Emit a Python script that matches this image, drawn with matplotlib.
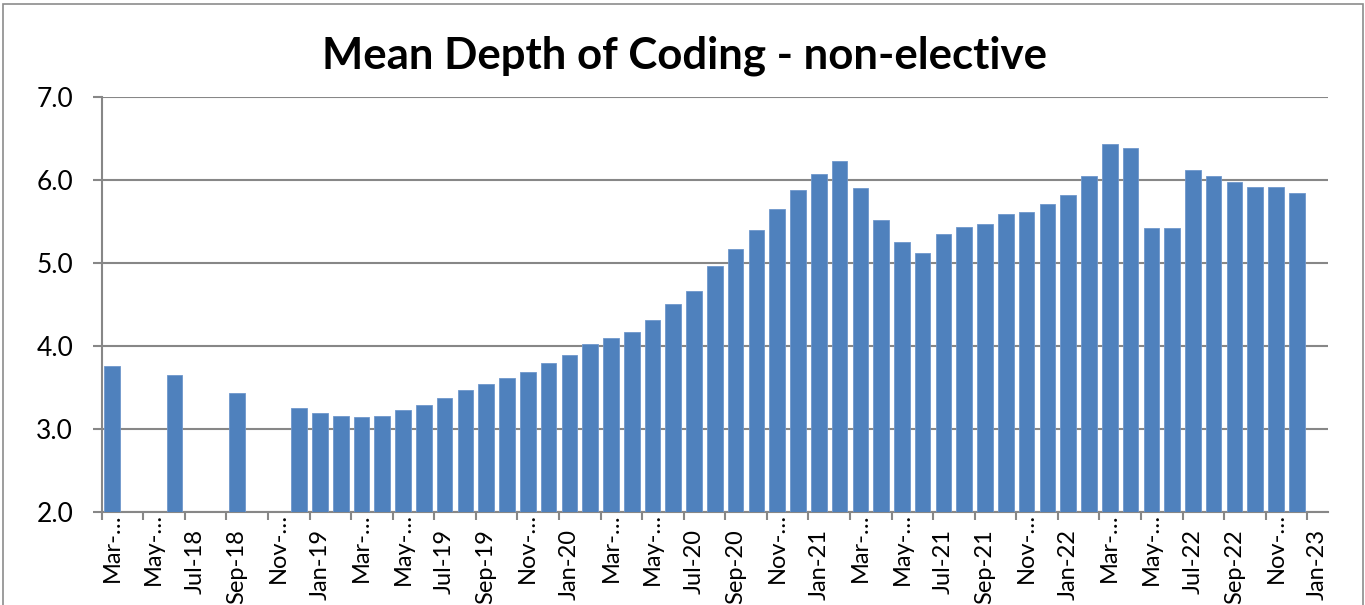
import matplotlib
matplotlib.use("Agg")
import matplotlib.pyplot as plt
import matplotlib.transforms as mtransforms
from matplotlib.patches import Rectangle
import pandas as pd

plt.rcParams['font.family'] = ['Lato', 'DejaVu Sans']

# Reporting months and mean depth of coding (non-elective)
months = [
    "Mar-18", "Jun-18", "Sep-18", "Dec-18",
    "Jan-19", "Feb-19", "Mar-19", "Apr-19", "May-19", "Jun-19",
    "Jul-19", "Aug-19", "Sep-19", "Oct-19", "Nov-19", "Dec-19",
    "Jan-20", "Feb-20", "Mar-20", "Apr-20", "May-20", "Jun-20",
    "Jul-20", "Aug-20", "Sep-20", "Oct-20", "Nov-20", "Dec-20",
    "Jan-21", "Feb-21", "Mar-21", "Apr-21", "May-21", "Jun-21",
    "Jul-21", "Aug-21", "Sep-21", "Oct-21", "Nov-21", "Dec-21",
    "Jan-22", "Feb-22", "Mar-22", "Apr-22", "May-22", "Jun-22",
    "Jul-22", "Aug-22", "Sep-22", "Oct-22", "Nov-22", "Dec-22",
]
depth = [
    3.76, 3.65, 3.43, 3.25,
    3.19, 3.16, 3.14, 3.16, 3.23, 3.29,
    3.37, 3.47, 3.54, 3.62, 3.69, 3.79,
    3.89, 4.02, 4.10, 4.17, 4.31, 4.51,
    4.66, 4.96, 5.17, 5.40, 5.65, 5.88,
    6.07, 6.23, 5.90, 5.52, 5.25, 5.12,
    5.35, 5.43, 5.47, 5.59, 5.61, 5.71,
    5.82, 6.05, 6.43, 6.38, 5.42, 5.42,
    6.12, 6.05, 5.97, 5.92, 5.91, 5.84,
]

# Axis tick labels (every second month, as shown on the date axis)
tick_labels = [
    "Mar-…", "May-…", "Jul-18", "Sep-18", "Nov-…",
    "Jan-19", "Mar-…", "May-…", "Jul-19", "Sep-19", "Nov-…",
    "Jan-20", "Mar-…", "May-…", "Jul-20", "Sep-20", "Nov-…",
    "Jan-21", "Mar-…", "May-…", "Jul-21", "Sep-21", "Nov-…",
    "Jan-22", "Mar-…", "May-…", "Jul-22", "Sep-22", "Nov-…",
    "Jan-23",
]
axis_start = "Mar-18"
axis_end = "Jan-23"

def month_index(label):
    d = pd.to_datetime(label, format="%b-%y")
    s = pd.to_datetime(axis_start, format="%b-%y")
    return (d.year - s.year) * 12 + (d.month - s.month)

xs = [month_index(m) for m in months]
n_slots = month_index(axis_end) + 1

BLUE = "#4F81BD"
GRID = "#878787"

fig = plt.figure(figsize=(13.65, 6.05), dpi=100)
W, H = 1365, 605
ax = fig.add_axes([101.7 / W, 1 - 512 / H, (1328 - 101.7) / W, (512 - 97) / H])

ax.bar(xs, [v - 2.0 for v in depth], bottom=2.0, width=0.75,
       color=BLUE, edgecolor="#6f97cc", linewidth=0.6, zorder=3)

ax.set_xlim(-0.5, n_slots - 0.5)
ax.set_ylim(2.0, 7.0)
ax.set_yticks([2, 3, 4, 5, 6, 7])
ax.set_yticklabels([f"{v:.1f}" for v in [2, 3, 4, 5, 6, 7]], fontsize=19)
ax.yaxis.grid(True, color=GRID, linewidth=1.5, zorder=0)
ax.set_axisbelow(True)

ax.set_xticks([-0.5 + 2 * k for k in range(len(tick_labels))])
ax.set_xticklabels([])
ax.tick_params(axis="x", length=6, width=1.5, color=GRID, direction="out")
ax.tick_params(axis="y", length=6.5, width=1.5, color=GRID, direction="out", pad=14)

for sp in ["top", "right"]:
    ax.spines[sp].set_visible(False)
for sp in ["left", "bottom"]:
    ax.spines[sp].set_color(GRID)
    ax.spines[sp].set_linewidth(1.5)

blend = mtransforms.blended_transform_factory(ax.transData, ax.transAxes)
for k, lab in enumerate(tick_labels):
    drop = 1 if lab.endswith("…") else 17
    tr = mtransforms.offset_copy(blend, fig=fig, x=0, y=-drop * 72 / 100, units="points")
    ax.text(2 * k, 0, lab, transform=tr, rotation=90, ha="center", va="top",
            fontsize=17, color="black")

fig.text(684 / W, 1 - 69 / H, "Mean Depth of Coding - non-elective",
         ha="center", va="baseline", fontsize=31.5, fontweight="bold")

fig.patches.append(Rectangle((3 / W, -0.05), (1360 / W), 1 - 4 / H + 0.05,
                             transform=fig.transFigure, fill=False,
                             edgecolor="#8c8c8c", linewidth=1.2))

fig.savefig("out.png", dpi=100)
